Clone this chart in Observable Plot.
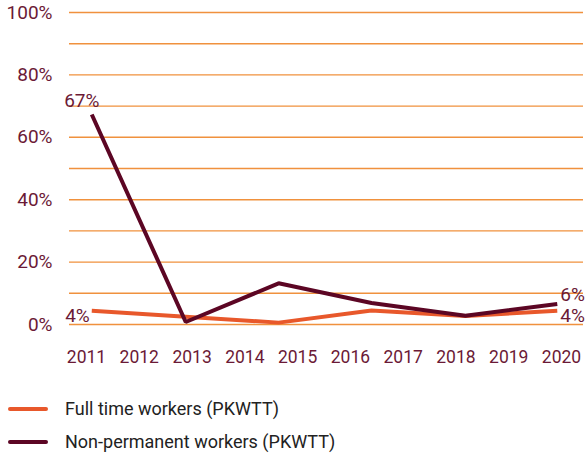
<!DOCTYPE html>
<html><head><meta charset="utf-8">
<script src="https://cdn.jsdelivr.net/npm/d3@7"></script>
<script src="https://cdn.jsdelivr.net/npm/@observablehq/plot@0.6"></script>
<style>
body{margin:0;background:#fff;font-family:Roboto,sans-serif}
#chart svg g[aria-label="y-axis tick label"] text{font-size:19px}
#chart svg g[aria-label="x-axis tick label"] text{font-size:17.5px}
.legend{margin-top:17px}
.row{display:flex;align-items:center;height:33px}
.sw{width:40px;height:4px;margin-left:8px;margin-right:17px;border-radius:2px}
.lt{font-size:18px;color:#222}
</style>
</head><body><div id="chart"></div>
<script>
const years = [2011, 2012, 2013, 2014, 2015, 2016, 2017, 2018, 2019, 2020];
const pointPos = [2011.1, 2012.88, 2014.64, 2016.4, 2018.18, 2019.92];
const fullTime = [4.4, 2.5, 0.6, 4.5, 2.7, 4.4];
const nonPermanent = [67.3, 0.8, 13.2, 6.9, 2.8, 6.6];
const seriesNames = ["Full time workers (PKWTT)", "Non-permanent workers (PKWTT)"];
const seriesColors = ["#e8582b", "#5c0624"];
const yTicks = [0, 20, 40, 60, 80, 100];
const yGrid = [0, 10, 20, 30, 40, 50, 60, 70, 80, 90, 100];
const labelSeries = [1, 0, 1, 0];
const labelIndex = [0, 0, 5, 5];
const labelText = ["67%", "4%", "6%", "4%"];

const seriesValues = [fullTime, nonPermanent];
const rows = [];
seriesValues.forEach((vals, s) => vals.forEach((v, i) => rows.push({x: pointPos[i], y: v, s})));
const lab = labelText.map((t, k) => ({x: pointPos[labelIndex[k]], y: seriesValues[labelSeries[k]][labelIndex[k]], t, k}));
const tc = "#6b1a36";

const chart = Plot.plot({
  width: 585, height: 375,
  marginLeft: 69, marginRight: 2, marginTop: 12, marginBottom: 51,
  style: {fontFamily: "Roboto, sans-serif", color: tc, background: "#fff"},
  x: {type: "linear", domain: [2010.678, 2020.417], label: null},
  y: {domain: [0, 100], label: null},
  marks: [
    Plot.ruleY(yGrid, {stroke: "#f0913d", strokeWidth: 1.4}),
    Plot.axisY({ticks: yTicks, tickFormat: d => d + "%", tickSize: 0, tickPadding: 17, fill: tc, label: null}),
    Plot.axisX({ticks: years, tickFormat: d => String(d), tickSize: 0, tickPadding: 26, fill: tc, label: null}),
    Plot.line(rows.filter(d => d.s === 0), {x: "x", y: "y", stroke: seriesColors[0], strokeWidth: 4, strokeLinejoin: "miter", strokeLinecap: "butt"}),
    Plot.line(rows.filter(d => d.s === 1), {x: "x", y: "y", stroke: seriesColors[1], strokeWidth: 4, strokeLinejoin: "miter", strokeLinecap: "butt"}),
    Plot.text(lab.filter(d => d.k === 0), {x: "x", y: "y", text: "t", textAnchor: "middle", dx: -10, dy: -14, fontSize: 19, fill: tc}),
    Plot.text(lab.filter(d => d.k === 1), {x: "x", y: "y", text: "t", textAnchor: "end", dx: -2, dy: 5, fontSize: 19, fill: tc}),
    Plot.text(lab.filter(d => d.k === 2), {x: "x", y: "y", text: "t", textAnchor: "start", dx: 3, dy: -9, fontSize: 19, fill: tc}),
    Plot.text(lab.filter(d => d.k === 3), {x: "x", y: "y", text: "t", textAnchor: "start", dx: 3, dy: 5, fontSize: 19, fill: tc})
  ]
});
const root = document.getElementById("chart");
root.appendChild(chart);
const leg = document.createElement("div");
leg.className = "legend";
seriesNames.forEach((n, i) => {
  const r = document.createElement("div"); r.className = "row";
  const sw = document.createElement("div"); sw.className = "sw"; sw.style.background = seriesColors[i];
  const t = document.createElement("span"); t.className = "lt"; t.textContent = n;
  r.appendChild(sw); r.appendChild(t); leg.appendChild(r);
});
root.appendChild(leg);
</script>
</body></html>
